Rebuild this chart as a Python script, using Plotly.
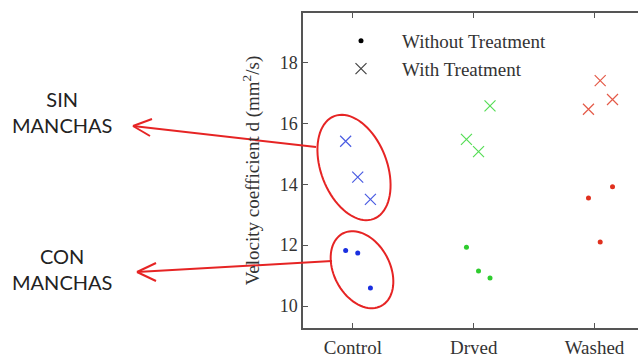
import math
import plotly.graph_objects as go

# ---- data ----
categories = ["Control", "Dryed", "Washed"]
cat_pos = [1, 2, 3]
x_with = {"Control": [0.94, 1.04, 1.145], "Dryed": [1.94, 2.04, 2.135], "Washed": [2.95, 3.047, 3.149]}
y_with = {"Control": [15.41, 14.23, 13.50], "Dryed": [15.47, 15.07, 16.57], "Washed": [16.46, 17.40, 16.78]}
x_without = {"Control": [0.94, 1.04, 1.145], "Dryed": [1.94, 2.04, 2.135], "Washed": [2.95, 3.047, 3.149]}
y_without = {"Control": [11.82, 11.74, 10.59], "Dryed": [11.93, 11.15, 10.92], "Washed": [13.55, 12.10, 13.92]}
y_ticks = [10, 12, 14, 16, 18]

dot_colors = {"Control": "#1a2fe0", "Dryed": "#2ecc2e", "Washed": "#e0301e"}
x_colors = {"Control": "#4a5ce2", "Dryed": "#55dd55", "Washed": "#e45a48"}

W, H = 638, 354
ML, MR, MT, MB = 303, 0, 13, 26
PW, PH = W - ML - MR, H - MT - MB

def px2paper(x, y):
    return (x - ML) / PW, 1 - (y - MT) / PH

fig = go.Figure()
for c in categories:
    fig.add_trace(go.Scatter(x=x_without[c], y=y_without[c], mode="markers",
                             marker=dict(symbol="circle", size=5, color=dot_colors[c]),
                             showlegend=False))
    fig.add_trace(go.Scatter(x=x_with[c], y=y_with[c], mode="markers",
                             marker=dict(symbol="x-thin-open", size=11, color=x_colors[c],
                                         line=dict(width=1.2, color=x_colors[c])),
                             showlegend=False))

# legend entries (black)
fig.add_trace(go.Scatter(x=[None], y=[None], mode="markers", name="Without Treatment",
                         marker=dict(symbol="circle", size=5, color="black")))
fig.add_trace(go.Scatter(x=[None], y=[None], mode="markers", name="With Treatment",
                         marker=dict(symbol="x-thin-open", size=11, color="#444",
                                     line=dict(width=1.2, color="#444"))))

red = "#e62424"
shapes = []

def ellipse_path(cx, cy, a, b, tilt_deg, n=80):
    phi = math.radians(tilt_deg)
    pts = []
    for i in range(n + 1):
        t = 2 * math.pi * i / n
        x = cx + a * math.cos(t) * math.sin(phi) + b * math.sin(t) * math.cos(phi)
        y = cy + a * math.cos(t) * math.cos(phi) - b * math.sin(t) * math.sin(phi)
        pts.append(px2paper(x, y))
    return "M " + " L ".join(f"{p[0]:.5f},{p[1]:.5f}" for p in pts) + " Z"

shapes.append(dict(type="path", xref="paper", yref="paper", path=ellipse_path(354, 167.5, 55, 33, 21),
                   line=dict(color=red, width=2)))
shapes.append(dict(type="path", xref="paper", yref="paper", path=ellipse_path(362, 269.7, 41, 28, 28),
                   line=dict(color=red, width=2)))

def seg(p, q):
    a = px2paper(*p); b = px2paper(*q)
    return dict(type="line", xref="paper", yref="paper", x0=a[0], y0=a[1], x1=b[0], y1=b[1],
                line=dict(color=red, width=2))

# top arrow
shapes += [seg((316, 147), (133, 126)), seg((133, 126), (152, 119)), seg((133, 126), (150, 136))]
# bottom arrow
shapes += [seg((332, 261), (137, 272)), seg((137, 272), (156, 263)), seg((137, 272), (156, 281))]

annotations = []
for txt, (x, y) in [("SIN<br>MANCHAS", (62, 112)), ("CON<br>MANCHAS", (62, 269))]:
    px, py = px2paper(x, y)
    annotations.append(dict(text=txt, x=px, y=py, xref="paper", yref="paper", showarrow=False,
                            xanchor="center", yanchor="middle",
                            font=dict(family="Lato", size=20, color="#222"), align="center"))

lx, _ = px2paper(320, 0)
_, ly = px2paper(0, 22)
fig.update_layout(
    width=W, height=H, margin=dict(l=ML, r=MR, t=MT, b=MB),
    paper_bgcolor="white", plot_bgcolor="white",
    font=dict(family="Liberation Serif", size=18, color="#333"),
    shapes=shapes, annotations=annotations,
    legend=dict(x=lx, y=ly, xanchor="left", yanchor="top",
                bgcolor="rgba(0,0,0,0)", font=dict(size=19, color="#333"), itemwidth=72,
                tracegroupgap=0),
    xaxis=dict(range=[0.587, 3.36], tickvals=cat_pos, ticktext=categories, ticks="inside", ticklen=5,
               showline=True, linecolor="#555", linewidth=1.5, mirror="ticks", showgrid=False,
               zeroline=False, tickcolor="#555", tickfont=dict(size=19), ticklabelstandoff=1,
               automargin=False),
    yaxis=dict(range=[9.28, 19.62], tickvals=y_ticks, ticks="inside", ticklen=5,
               showline=True, linecolor="#555", linewidth=1.5, showgrid=False, zeroline=False,
               tickcolor="#555", tickfont=dict(size=18), automargin=False,
               title=dict(text="Velocity coefficient d (mm<sup>2</sup>/s)", standoff=15,
                          font=dict(size=19))),
)
fig.write_html("out.html", config={"displayModeBar": False},
               post_script="document.body.style.margin='0';")
